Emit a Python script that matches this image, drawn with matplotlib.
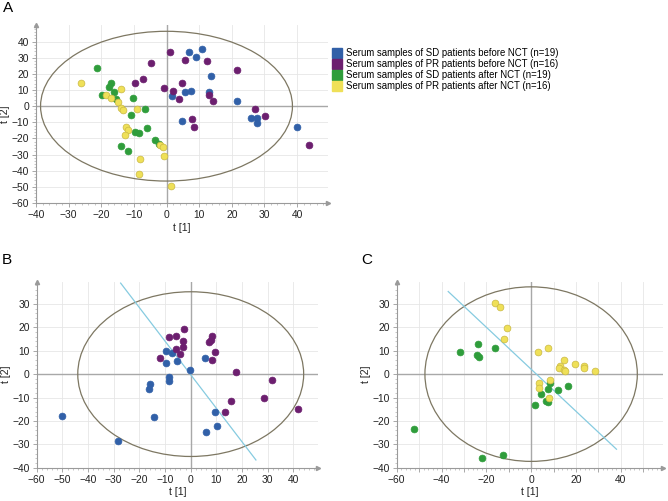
import matplotlib
matplotlib.use("Agg")
import matplotlib.pyplot as plt
from matplotlib.patches import Ellipse
from matplotlib.lines import Line2D
import numpy as np

plt.rcParams['font.family'] = ['Liberation Sans', 'DejaVu Sans']

# ---------------- Data ----------------
# Panel A
a_sd_before_x = [6.8, 11.0, 8.9, 13.5, 1.8, 5.7, 7.6, 13.0, 21.5, 4.6, 26.0, 27.8, 27.8, 40.0]
a_sd_before_y = [33.6, 35.5, 30.7, 18.6, 6.6, 8.5, 9.5, 8.7, 2.9, -9.1, -7.4, -7.4, -10.3, -13.2]
a_pr_before_x = [1.2, 5.7, 12.3, -4.9, 21.7, -9.7, -7.1, 4.7, -0.7, 1.9, 3.8, 13.0, 14.4, 27.1, 7.7, 8.3, 30.3, 43.7]
a_pr_before_y = [33.6, 28.5, 28.0, 26.6, 22.3, 14.2, 16.7, 14.6, 11.3, 9.3, 4.3, 7.0, 3.3, -1.6, -7.8, -13.2, -6.0, -24.3]
a_sd_after_x = [-21.3, -17.1, -17.5, -16.1, -19.8, -15.5, -10.4, -6.7, -10.8, -5.9, -9.6, -8.5, -3.6, -2.3, -14.1, -11.7]
a_sd_after_y = [23.5, 14.6, 11.8, 8.5, 7.2, 4.7, 5.2, -1.9, -5.4, -13.8, -16.3, -16.7, -21.0, -23.5, -24.7, -28.0]
a_pr_after_x = [-26.2, -18.5, -17.1, -13.9, -14.9, -14.1, -13.4, -8.9, -12.5, -11.7, -12.8, -1.9, -1.1, -0.9, -8.1, -8.4, 1.4]
a_pr_after_y = [14.6, 7.0, 5.2, 10.9, 2.3, -1.2, -2.3, -1.9, -12.6, -14.8, -17.9, -24.3, -25.4, -30.9, -32.6, -42.3, -49.5]

# Panel B
b_sd_x = [-50.0, -28.4, -14.4, -16.4, -15.8, -8.3, -8.3, -9.6, -9.6, -7.1, -5.3, -0.4, 5.6, 9.4, 10.4, 5.8]
b_sd_y = [-17.9, -28.5, -18.3, -6.2, -4.2, -1.4, -3.1, 4.9, 9.9, 9.2, 5.8, 1.8, 6.9, -16.2, -22.2, -24.9]
b_pr_x = [-11.9, -8.3, -5.6, -2.7, -3.1, -3.1, -5.8, -4.3, 8.4, 7.8, 7.3, 9.4, 8.2, 17.8, 15.8, 13.5, 28.6, 31.6, 41.8]
b_pr_y = [6.8, 15.9, 16.5, 19.3, 14.2, 11.5, 10.9, 8.5, 16.3, 14.5, 13.6, 9.5, 5.9, 1.1, -11.5, -16.3, -10.4, -2.7, -15.1]

# Panel C
c_sd_x = [-52.3, -31.6, -23.9, -24.0, -23.3, -16.3, -21.9, -12.7, 1.7, 4.5, 6.6, 7.5, 7.7, 8.4, 12.1, 16.3]
c_sd_y = [-23.3, 9.6, 12.9, 8.2, 7.2, 11.3, -35.9, -34.5, -13.2, -8.5, -11.3, -11.8, -6.2, -3.9, -6.6, -5.1]
c_pr_x = [-16.3, -13.9, -10.8, -12.3, 3.2, 7.5, 14.8, 19.6, 12.7, 12.5, 14.8, 15.0, 23.5, 23.5, 28.7, 3.6, 3.3, 8.6, 7.9]
c_pr_y = [30.4, 28.7, 19.6, 15.0, 9.6, 11.0, 6.1, 4.3, 3.5, 2.7, 1.8, 1.3, 3.5, 2.6, 1.5, -3.6, -5.9, -2.5, -10.4]

legend_labels = ["Serum samples of SD patients before NCT (n=19)",
                 "Serum samples of PR patients before NCT (n=16)",
                 "Serum samples of SD patients after NCT (n=19)",
                 "Serum samples of PR patients after NCT (n=16)"]

C_BLUE = '#3160a8'
C_PURPLE = '#6c1f6f'
C_GREEN = '#2f9d3b'
C_YELLOW = '#efe058'
C_YEDGE = '#c9b843'
C_ELL = '#7d7762'
C_LINE = '#86cbe0'

W, H = 668, 501
fig = plt.figure(figsize=(W / 100, H / 100), dpi=100)


def px_axes(l, t, r, b):
    return fig.add_axes([l / W, 1 - b / H, (r - l) / W, (b - t) / H])


def style(ax, xlim, ylim, xt, yt):
    ax.set_xlim(*xlim)
    ax.set_ylim(*ylim)
    ax.set_xticks(xt)
    ax.set_yticks(yt)
    for s in ['top', 'right']:
        ax.spines[s].set_visible(False)
    for s in ['left', 'bottom']:
        ax.spines[s].set_color('#9a9a9a')
        ax.spines[s].set_linewidth(0.8)
    ax.tick_params(labelsize=7.4, length=3, width=0.6, color='#9a9a9a', pad=2, labelcolor='#222222')
    ax.minorticks_on()
    ax.tick_params(which='minor', length=1.5, width=0.5, color='#b0b0b0')
    ax.grid(True, which='major', color='#e6e6e6', linewidth=0.6)
    ax.set_axisbelow(True)
    ax.axhline(0, color='#a8a8a8', linewidth=1.0, zorder=1)
    ax.axvline(0, color='#a8a8a8', linewidth=1.0, zorder=1)
    ax.plot(1, 0, '>', color='#9a9a9a', markersize=3, transform=ax.transAxes, clip_on=False)
    ax.plot(0, 1, '^', color='#9a9a9a', markersize=3, transform=ax.transAxes, clip_on=False)
    ax.set_xlabel('t [1]', fontsize=7.6, labelpad=2, color='#222222')
    ax.set_ylabel('t [2]', fontsize=7.6, labelpad=1, color='#222222')


def pts(ax, x, y, c, ec=None):
    ax.scatter(x, y, s=24, color=c, edgecolors=ec if ec else c, linewidths=0.5, zorder=3)


# Panel A
axA = px_axes(36, 25, 328, 203)
style(axA, (-40, 49.5), (-60, 50.3), np.arange(-40, 41, 10), np.arange(-60, 41, 10))
axA.add_patch(Ellipse((0, 0), 2 * 38.6, 2 * 46.4, fill=False, edgecolor=C_ELL, linewidth=0.9, zorder=2))
pts(axA, a_sd_before_x, a_sd_before_y, C_BLUE)
pts(axA, a_pr_before_x, a_pr_before_y, C_PURPLE)
pts(axA, a_sd_after_x, a_sd_after_y, C_GREEN)
pts(axA, a_pr_after_x, a_pr_after_y, C_YELLOW, C_YEDGE)

handles = [Line2D([], [], marker='s', linestyle='none', markersize=6.5, color=c)
           for c in [C_BLUE, C_PURPLE, C_GREEN, C_YELLOW]]
fig.legend(handles, legend_labels, loc='upper left', bbox_to_anchor=(333 / W, 1 - 48 / H),
           frameon=False, fontsize=6.9, handlelength=0.8, handletextpad=0.55,
           labelspacing=0.12, borderpad=0, borderaxespad=0)

# Panel B
axB = px_axes(36.7, 281.7, 318.3, 467.7)
style(axB, (-60, 49.7), (-40, 39.5), np.arange(-60, 41, 10), np.arange(-40, 31, 10))
axB.add_patch(Ellipse((0, 0), 2 * 44.0, 2 * 35.2, fill=False, edgecolor=C_ELL, linewidth=0.9, zorder=2))
axB.plot([-27.3, 25.4], [38.9, -36.7], color=C_LINE, linewidth=0.9, zorder=2)
pts(axB, b_sd_x, b_sd_y, C_BLUE)
pts(axB, b_pr_x, b_pr_y, C_PURPLE)

# Panel C
axC = px_axes(396.7, 281.7, 663.3, 467.7)
style(axC, (-60, 59), (-40, 39.5), np.arange(-60, 41, 20), np.arange(-40, 31, 10))
axC.set_xticks(np.arange(-60, 51, 10), minor=False)
axC.set_xticklabels(['−60', '', '−40', '', '−20', '', '0', '', '20', '', '40', ''])
axC.add_patch(Ellipse((0, 0), 2 * 47.4, 2 * 37.3, fill=False, edgecolor=C_ELL, linewidth=0.9, zorder=2))
axC.plot([-37.0, 38.1], [35.3, -32.1], color=C_LINE, linewidth=0.9, zorder=2)
pts(axC, c_sd_x, c_sd_y, C_GREEN)
pts(axC, c_pr_x, c_pr_y, C_YELLOW, C_YEDGE)

# Panel letters
fig.text(8 / W, 1 - 8 / H, 'A', fontsize=11, ha='center', va='center')
fig.text(7 / W, 1 - 260 / H, 'B', fontsize=11, ha='center', va='center')
fig.text(367 / W, 1 - 260 / H, 'C', fontsize=11, ha='center', va='center')

fig.savefig('out.png', dpi=100)
